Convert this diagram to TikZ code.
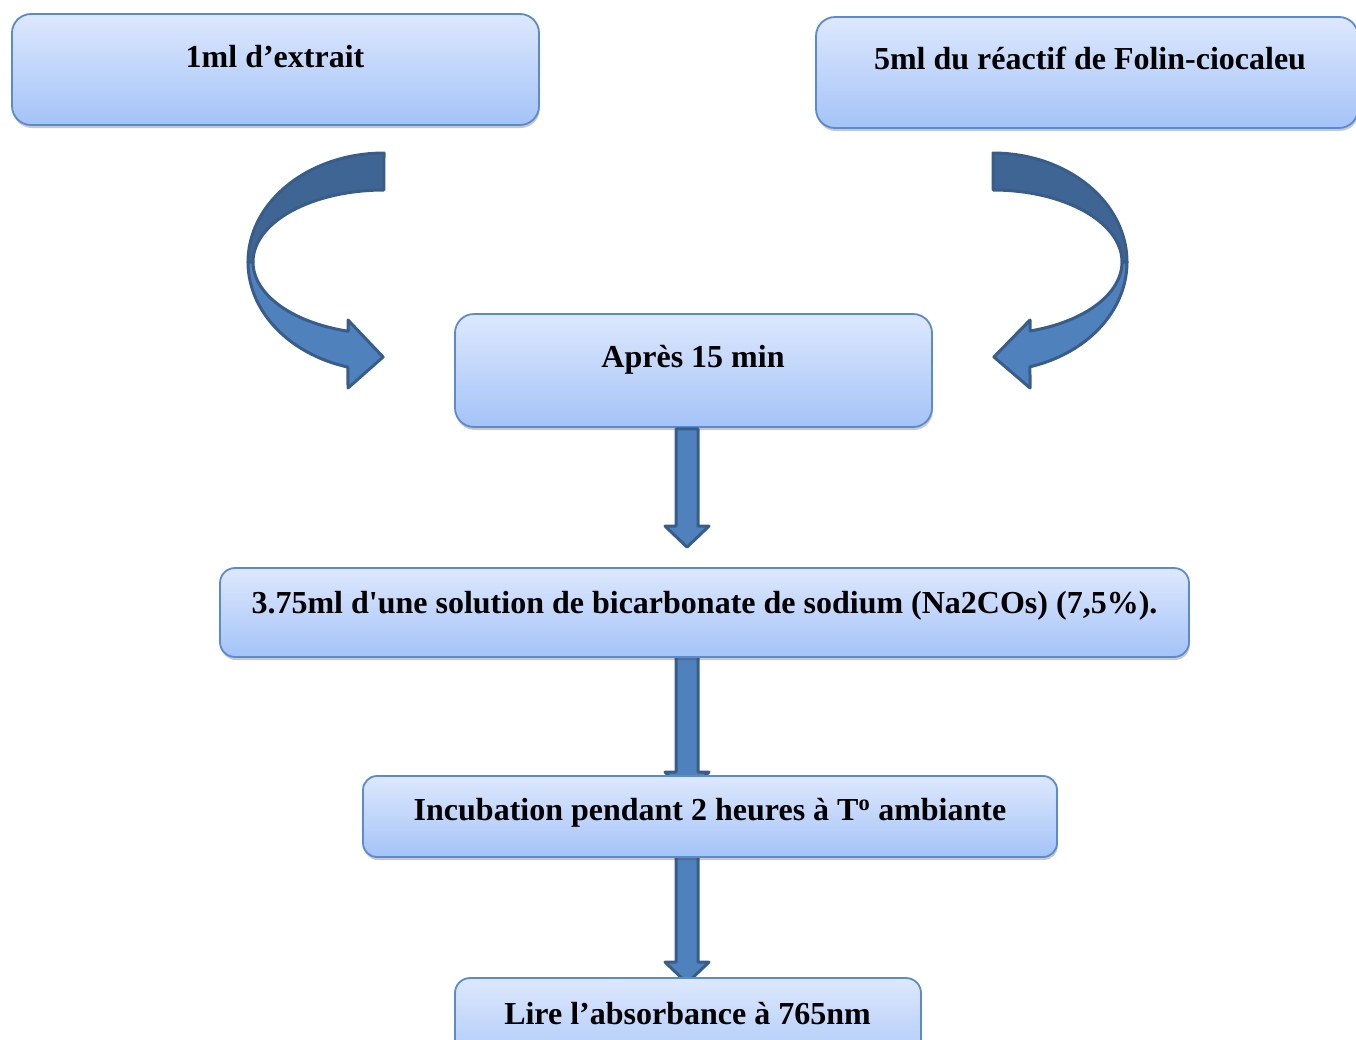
\documentclass[tikz,border=0pt]{standalone}
\usepackage{fontspec}
\setmainfont{Liberation Serif}
\usetikzlibrary{calc,shadows}
\definecolor{boxtop}{HTML}{DDE8FD}
\definecolor{boxbot}{HTML}{A4C3F8}
\definecolor{boxline}{HTML}{5B8BCF}
\definecolor{arrfill}{HTML}{4F81BD}
\definecolor{arrdark}{HTML}{3E6594}
\definecolor{arrline}{HTML}{385D8A}
\pgfdeclarelayer{bg}
\pgfsetlayers{bg,main}
\newcommand{\blkarrow}[2]{%
  \draw[blk] ($(#1)+(-11,0)$) -- ($(#2)+(-11,-21)$) -- ($(#2)+(-22,-21)$) -- (#2)
    -- ($(#2)+(22,-21)$) -- ($(#2)+(11,-21)$) -- ($(#1)+(11,0)$) -- cycle;}
\begin{document}
\begin{tikzpicture}[x=1pt,y=-1pt,
  box/.style={draw=boxline, line width=1.8pt, top color=boxtop, bottom color=boxbot,
    inner sep=0pt, drop shadow={shadow xshift=0.8pt, shadow yshift=-3pt, opacity=0.3, fill=black!70}},
  txt/.style={font=\fontsize{32}{37}\selectfont\bfseries, inner sep=0pt, anchor=base},
  blk/.style={fill=arrfill, draw=arrline, line width=3pt, line join=round},
  ribdark/.style={fill=arrdark, draw=arrline, line width=3pt, line join=round},
  riblight/.style={fill=arrfill, draw=arrline, line width=3pt, line join=round}]
\useasboundingbox (0,0) rectangle (1356,1039);
\clip (0,0) rectangle (1356,1039);
% boxes
\node[box, rounded corners=19pt, minimum width=527pt, minimum height=111pt] (A) at (275.5,69.5) {};
\node[txt] (tA) at (275,67) {1ml d’extrait};
\node[box, rounded corners=19pt, minimum width=542pt, minimum height=111pt] (B) at (1087,72.5) {};
\node[txt] (tB) at (1090,69) {5ml du réactif de Folin-ciocaleu};
\node[box, rounded corners=19pt, minimum width=477pt, minimum height=113pt] (C) at (693.5,370.5) {};
\node[txt] (tC) at (693,367) {Après 15 min};
\node[box, rounded corners=15pt, minimum width=969pt, minimum height=89pt] (D) at (704.5,612.5) {};
\node[txt] (tD) at (704.5,613) {3.75ml d\textquotesingle une solution de bicarbonate de sodium (Na2COs) (7,5\%).};
\node[box, rounded corners=14pt, minimum width=694pt, minimum height=81pt] (E) at (710,816.5) {};
\node[txt] (tE) at (710,820) {Incubation pendant 2 heures à T\textsuperscript{o} ambiante};
\node[box, rounded corners=15pt, minimum width=466pt, minimum height=100pt] (F) at (688,1028) {};
\node[txt] (tF) at (687.5,1024) {Lire l’absorbance à 765nm};
% curved arrow, left (from A to C)
\draw[ribdark] plot[domain=0:1, samples=40] ({384+136*cos(270-90*\x)},{262+109*sin(270-90*\x)})
  -- plot[domain=0:1, samples=40] ({384+131*cos(180+90*\x)},{262+72*sin(180+90*\x)}) -- cycle;
\draw[riblight] plot[domain=0:1, samples=40] ({384+136*cos(180-74.65*\x)},{262+109*sin(180-74.65*\x)})
  -- (348,388) -- ($(C.west)+(-71,-13.5)$) coordinate (tipL) -- (348,320)
  -- plot[domain=0:1, samples=40] ({384+131*cos(105.95+74.05*\x)},{262+72*sin(105.95+74.05*\x)}) -- cycle;
% curved arrow, right (from B to C)
\draw[ribdark] plot[domain=0:1, samples=40] ({993-134*cos(270-90*\x)},{262+109*sin(270-90*\x)})
  -- plot[domain=0:1, samples=40] ({993-129*cos(180+90*\x)},{262+72*sin(180+90*\x)}) -- cycle;
\draw[riblight] plot[domain=0:1, samples=40] ({993-134*cos(180-74*\x)},{262+109*sin(180-74*\x)})
  -- (1030,388) -- ($(C.east)+(61,-13.5)$) coordinate (tipR) -- (1030,320)
  -- plot[domain=0:1, samples=40] ({993-129*cos(106.67+73.33*\x)},{262+72*sin(106.67+73.33*\x)}) -- cycle;
% straight block arrows
\coordinate (a1s) at ($(C.south)+(-6.5,1)$);
\coordinate (a1e) at ($(D.north)+(-17.5,-20)$);
\blkarrow{a1s}{a1e}
\begin{pgfonlayer}{bg}
\coordinate (a2s) at ($(D.south)+(-17.5,-4)$);
\coordinate (a2e) at ($(E.north)+(-23,18)$);
\blkarrow{a2s}{a2e}
\coordinate (a3s) at ($(E.south)+(-23,-2)$);
\coordinate (a3e) at ($(F.north)+(-1,6)$);
\blkarrow{a3s}{a3e}
\end{pgfonlayer}
\end{tikzpicture}
\end{document}
